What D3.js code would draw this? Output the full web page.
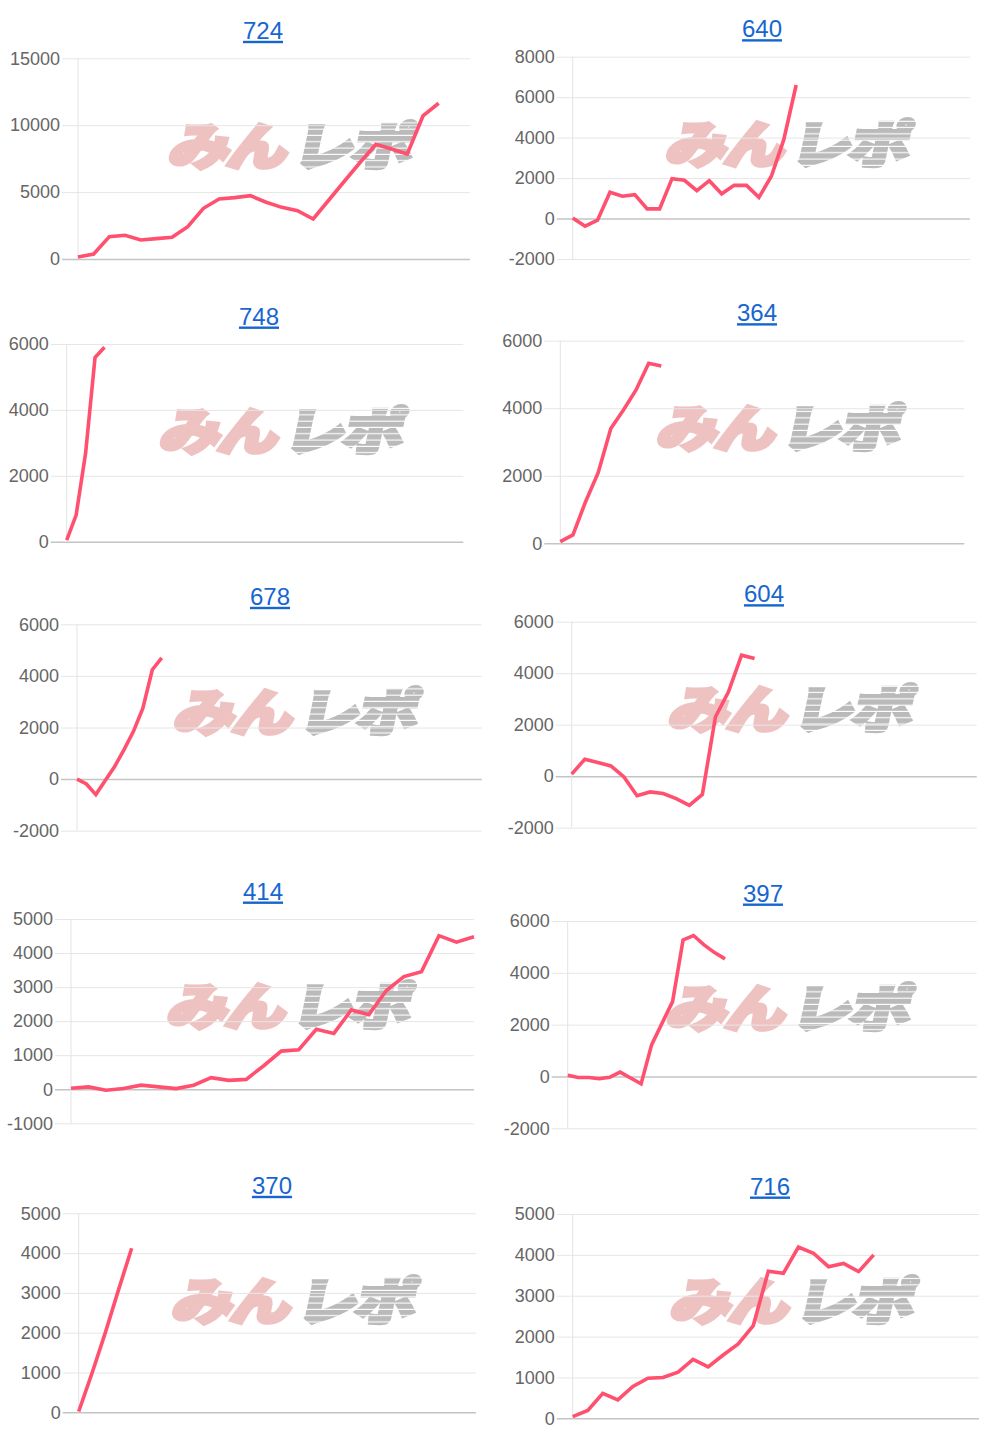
<!DOCTYPE html>
<html><head><meta charset="utf-8">
<script src="https://cdn.jsdelivr.net/npm/d3@7"></script>
<style>
body{margin:0;background:#fff}
svg{display:block}
.tick text{font-family:"Liberation Sans",Arial,Helvetica,sans-serif;font-size:18px;fill:#666}
.title{font-family:"Liberation Sans",Arial,Helvetica,sans-serif;font-size:24px;fill:#1766cf;text-decoration:underline}
.wm{font-family:"Noto Sans CJK JP",sans-serif;font-weight:900;font-size:60px}
</style>
</head><body>
<svg id="c" width="1000" height="1440"></svg>
<script>
// ---- data ----
const titles = ["724", "640", "748", "364", "678", "604", "414", "397", "370", "716"];
const labelCounts = [26, 33, 43, 33, 44, 32, 24, 40, 31, 28];

const s724 = [150, 370, 1670, 1770, 1420, 1520, 1620, 2420, 3790, 4490, 4590, 4730, 4240, 3860, 3610, 2990, 4410, 5830, 7230, 8570, 8220, 7850, 10690, 11640];
const s640 = [30, -380, -80, 1300, 1100, 1180, 480, 480, 1970, 1890, 1380, 1870, 1220, 1640, 1640, 1050, 2090, 3900, 6600];
const s748 = [50, 810, 2680, 5590, 5900];
const s364 = [50, 250, 1230, 2090, 3400, 3950, 4540, 5330, 5250];
const s678 = [0, -190, -600, -50, 490, 1140, 1850, 2750, 4240, 4700];
const s604 = [80, 660, 530, 400, -30, -760, -610, -670, -870, -1130, -710, 2300, 3280, 4700, 4570];
const s414 = [30, 70, -30, 20, 120, 70, 20, 120, 340, 260, 290, 690, 1120, 1160, 1760, 1640, 2330, 2190, 2900, 3310, 3450, 4510, 4320, 4480];
const s397 = [50, -40, -40, -90, -30, 170, -60, -280, 1220, 2060, 2890, 5270, 5440, 5080, 4780, 4540];
const s370 = [20, 980, 1990, 3070, 4120];
const s716 = [40, 190, 610, 450, 780, 980, 1000, 1130, 1440, 1260, 1550, 1820, 2270, 3600, 3550, 4190, 4040, 3710, 3790, 3590, 4000];
const seriesList = [s724, s640, s748, s364, s678, s604, s414, s397, s370, s716];

const t724 = [0, 5000, 10000, 15000];
const t640 = [-2000, 0, 2000, 4000, 6000, 8000];
const t748 = [0, 2000, 4000, 6000];
const t364 = [0, 2000, 4000, 6000];
const t678 = [-2000, 0, 2000, 4000, 6000];
const t604 = [-2000, 0, 2000, 4000, 6000];
const t414 = [-1000, 0, 1000, 2000, 3000, 4000, 5000];
const t397 = [-2000, 0, 2000, 4000, 6000];
const t370 = [0, 1000, 2000, 3000, 4000, 5000];
const t716 = [0, 1000, 2000, 3000, 4000, 5000];
const tickList = [t724, t640, t748, t364, t678, t604, t414, t397, t370, t716];

// ---- layout (plot boxes, title centres) ----
const boxes = [
  {l: 78, t: 58.3, r: 470, b: 259, tx: 263},
  {l: 572.7, t: 56.7, r: 970, b: 259, tx: 762},
  {l: 66.7, t: 344, r: 463.3, b: 541.7, tx: 259},
  {l: 560.3, t: 340.7, r: 964.3, b: 543.3, tx: 757},
  {l: 77, t: 624.3, r: 481.7, b: 830.7, tx: 270},
  {l: 571.7, t: 621.7, r: 976.7, b: 827.7, tx: 764},
  {l: 71, t: 919, r: 474, b: 1123.3, tx: 263},
  {l: 567.7, t: 921, r: 976.7, b: 1128.3, tx: 763},
  {l: 78.7, t: 1213.3, r: 476, b: 1412.3, tx: 272},
  {l: 572.7, t: 1214, r: 979, b: 1418.3, tx: 770}
];

const svg = d3.select("#c");
const defs = svg.append("defs");
const pat = defs.append("pattern").attr("id", "stripes")
  .attr("patternUnits", "userSpaceOnUse").attr("width", 10).attr("height", 7.5);
pat.append("rect").attr("width", 10).attr("height", 7.5).attr("fill", "#bababa");
pat.append("rect").attr("y", 6.2).attr("width", 10).attr("height", 1.3).attr("fill", "#fff");

seriesList.forEach((data, i) => {
  const box = boxes[i];
  const ticks = tickList[i];
  const y = d3.scaleLinear().domain(d3.extent(ticks)).range([box.b, box.t]);
  const x = d3.scalePoint().domain(d3.range(labelCounts[i])).range([box.l, box.r]).padding(0);
  const g = svg.append("g");

  // watermark
  const cx = (box.l + box.r) / 2 + 18, cy = box.t + 84;
  const wm = g.append("g").attr("transform", `translate(${cx},${cy}) scale(1.02,0.84)`);
  wm.append("text").attr("class", "wm").attr("x", -4).attr("y", 0)
    .attr("text-anchor", "end").attr("dominant-baseline", "central")
    .attr("fill", "#efc2c2").attr("stroke", "#efc2c2").attr("stroke-width", 4.5)
    .attr("stroke-linejoin", "miter").attr("transform", "skewX(-10)")
    .attr("letter-spacing", -3).text("みん");
  wm.append("text").attr("class", "wm").attr("x", 4).attr("y", 0)
    .attr("text-anchor", "start").attr("dominant-baseline", "central")
    .attr("fill", "url(#stripes)").attr("stroke", "url(#stripes)").attr("stroke-width", 4.5)
    .attr("transform", "skewX(-10)")
    .attr("letter-spacing", -3).text("レポ");

  // y axis with gridlines
  const axis = d3.axisLeft(y).tickValues(ticks)
    .tickSizeInner(-(box.r - box.l + 16)).tickSizeOuter(0).tickPadding(2)
    .tickFormat(d => String(d));
  const ag = g.append("g").attr("transform", `translate(${box.l - 16},0)`).call(axis);
  ag.select(".domain").remove();
  ag.selectAll(".tick line")
    .attr("stroke", d => d === 0 ? "#c4c4c4" : "#e6e6e6")
    .attr("stroke-width", d => d === 0 ? 1.5 : 1);
  ag.selectAll(".tick text").attr("font-family", null).attr("font-size", null).attr("fill", null);

  // vertical axis line
  g.append("line").attr("x1", box.l).attr("x2", box.l)
    .attr("y1", box.t).attr("y2", box.b).attr("stroke", "#e3e3e3");

  // data line
  const line = d3.line().x((d, j) => x(j)).y(d => y(d));
  g.append("path").datum(data).attr("d", line)
    .attr("fill", "none").attr("stroke", "#ff5070").attr("stroke-width", 3.6);

  // title
  g.append("text").attr("class", "title").attr("x", box.tx).attr("y", box.t - 19.5)
    .attr("text-anchor", "middle").text(titles[i]);
});
</script>
</body></html>
